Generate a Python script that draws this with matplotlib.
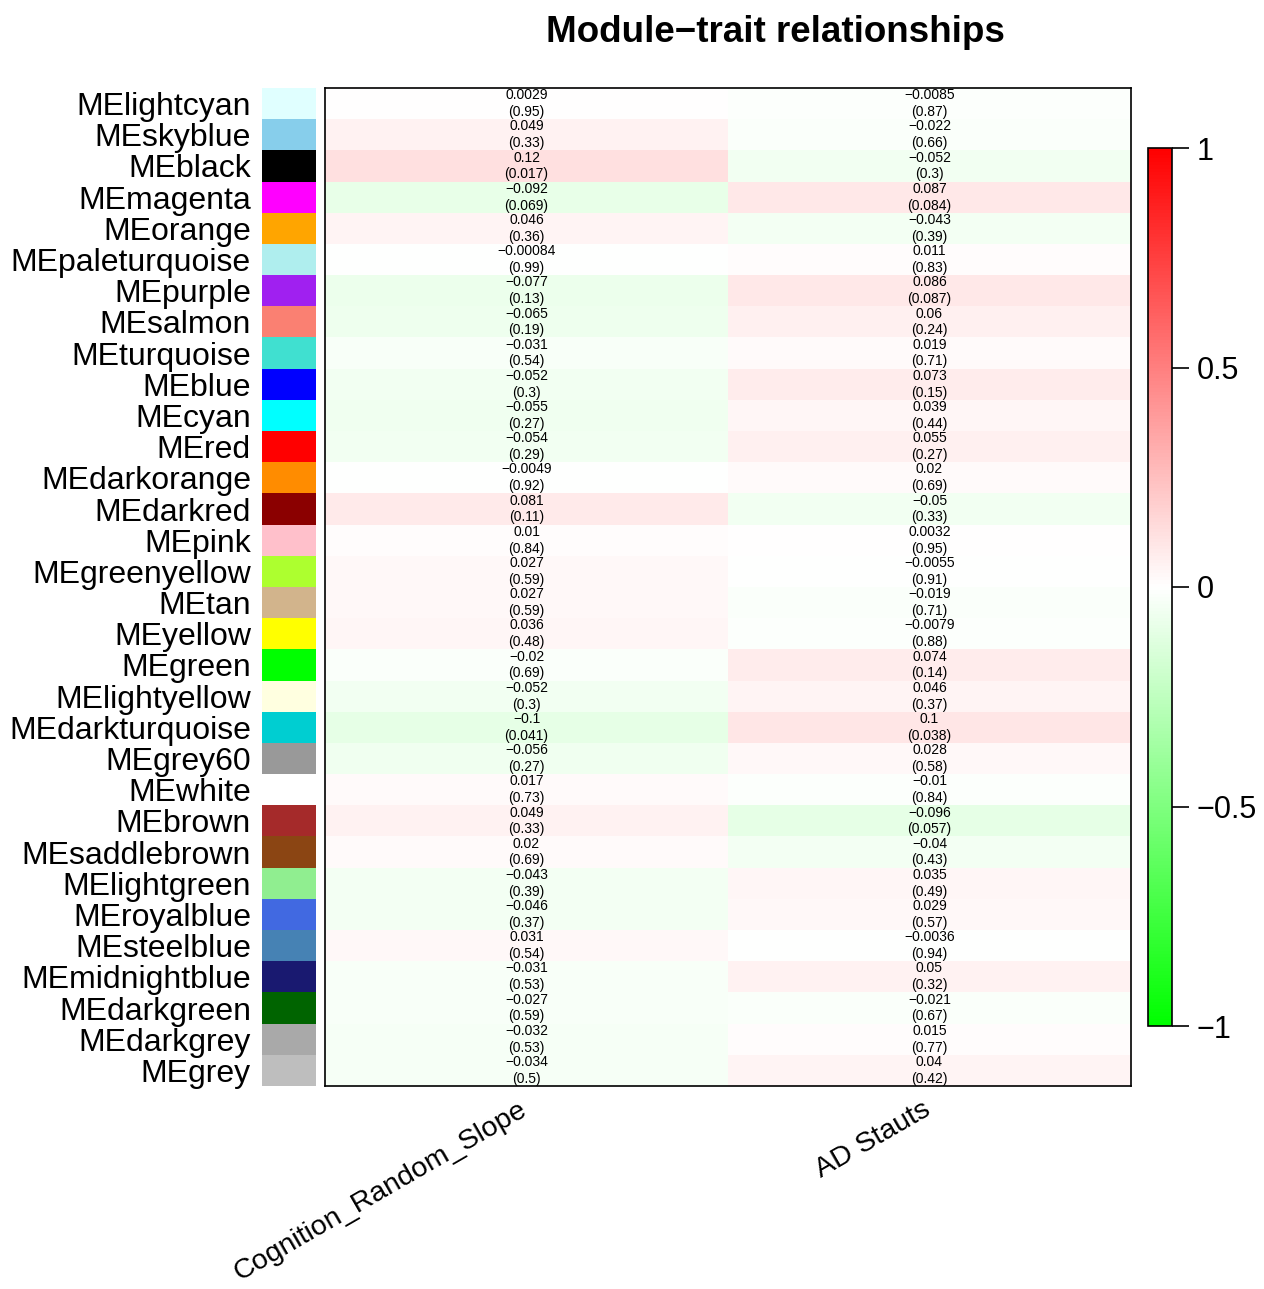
import numpy as np
import matplotlib
matplotlib.use("Agg")
import matplotlib.pyplot as plt
from matplotlib.colors import LinearSegmentedColormap, to_rgb
from matplotlib.transforms import ScaledTranslation

plt.rcParams['font.family'] = ['Liberation Sans', 'DejaVu Sans']

modules = ["lightcyan", "skyblue", "black", "magenta", "orange", "paleturquoise",
           "purple", "salmon", "turquoise", "blue", "cyan", "red", "darkorange",
           "darkred", "pink", "greenyellow", "tan", "yellow", "green", "lightyellow",
           "darkturquoise", "grey60", "white", "brown", "saddlebrown", "lightgreen",
           "royalblue", "steelblue", "midnightblue", "darkgreen", "darkgrey", "grey"]

# R colour names -> hex
module_hex = ["#E0FFFF", "#87CEEB", "#000000", "#FF00FF", "#FFA500", "#AFEEEE",
              "#A020F0", "#FA8072", "#40E0D0", "#0000FF", "#00FFFF", "#FF0000", "#FF8C00",
              "#8B0000", "#FFC0CB", "#ADFF2F", "#D2B48C", "#FFFF00", "#00FF00", "#FFFFE0",
              "#00CED1", "#999999", "#FFFFFF", "#A52A2A", "#8B4513", "#90EE90",
              "#4169E1", "#4682B4", "#191970", "#006400", "#A9A9A9", "#BEBEBE"]

traits = ["Cognition_Random_Slope", "AD Stauts"]

cor_cog = ["0.0029", "0.049", "0.12", "-0.092", "0.046", "-0.00084", "-0.077", "-0.065",
           "-0.031", "-0.052", "-0.055", "-0.054", "-0.0049", "0.081", "0.01", "0.027",
           "0.027", "0.036", "-0.02", "-0.052", "-0.1", "-0.056", "0.017", "0.049",
           "0.02", "-0.043", "-0.046", "0.031", "-0.031", "-0.027", "-0.032", "-0.034"]
p_cog = ["0.95", "0.33", "0.017", "0.069", "0.36", "0.99", "0.13", "0.19",
         "0.54", "0.3", "0.27", "0.29", "0.92", "0.11", "0.84", "0.59",
         "0.59", "0.48", "0.69", "0.3", "0.041", "0.27", "0.73", "0.33",
         "0.69", "0.39", "0.37", "0.54", "0.53", "0.59", "0.53", "0.5"]

cor_ad = ["-0.0085", "-0.022", "-0.052", "0.087", "-0.043", "0.011", "0.086", "0.06",
          "0.019", "0.073", "0.039", "0.055", "0.02", "-0.05", "0.0032", "-0.0055",
          "-0.019", "-0.0079", "0.074", "0.046", "0.1", "0.028", "-0.01", "-0.096",
          "-0.04", "0.035", "0.029", "-0.0036", "0.05", "-0.021", "0.015", "0.04"]
p_ad = ["0.87", "0.66", "0.3", "0.084", "0.39", "0.83", "0.087", "0.24",
        "0.71", "0.15", "0.44", "0.27", "0.69", "0.33", "0.95", "0.91",
        "0.71", "0.88", "0.14", "0.37", "0.038", "0.58", "0.84", "0.057",
        "0.43", "0.49", "0.57", "0.94", "0.32", "0.67", "0.77", "0.42"]

cor = np.column_stack([np.array(cor_cog, float), np.array(cor_ad, float)])
pvals = [p_cog, p_ad]
cors = [cor_cog, cor_ad]
n = len(modules)

cmap = LinearSegmentedColormap.from_list("gwr", ["#00FF00", "#FFFFFF", "#FF0000"], N=256)

fig = plt.figure(figsize=(12.64, 12.89), dpi=100)
W, H = 1264, 1289

def box(x0, y0, x1, y1):
    return [x0 / W, 1 - y1 / H, (x1 - x0) / W, (y1 - y0) / H]

# heatmap
ax = fig.add_axes(box(325, 88, 1131, 1086))
im = ax.imshow(cor, cmap=cmap, vmin=-1, vmax=1, aspect='auto', interpolation='nearest')
for j in range(2):
    for i in range(n):
        txt = cors[j][i].replace("-", "\u2212") + "\n(" + pvals[j][i] + ")"
        ax.text(j, i, txt, ha='center', va='center', fontsize=10, linespacing=1.25)
ax.set_yticks([])
ax.set_xticks(range(2))
ax.set_xticklabels(traits, rotation=30, ha='right', rotation_mode='anchor', fontsize=20.5)
ax.tick_params(axis='x', length=0, pad=8)
shift = ScaledTranslation(-8 / 100, 0, fig.dpi_scale_trans)
for lab in ax.get_xticklabels():
    lab.set_transform(lab.get_transform() + shift)
for s in ax.spines.values():
    s.set_linewidth(1.2)

# module colour swatches
axc = fig.add_axes(box(262, 88, 316, 1086))
axc.imshow(np.array([[to_rgb(c)] for c in module_hex]), aspect='auto', interpolation='nearest')
axc.set_xticks([])
axc.set_yticks(range(n))
axc.set_yticklabels(["ME" + m for m in modules], fontsize=23)
axc.tick_params(axis='y', length=0, pad=8)
for s in axc.spines.values():
    s.set_visible(False)

# colour bar
axb = fig.add_axes(box(1148, 148, 1172, 1026))
cb = fig.colorbar(im, cax=axb)
cb.set_ticks([-1, -0.5, 0, 0.5, 1])
cb.set_ticklabels(["\u22121", "\u22120.5", "0", "0.5", "1"])
axb.tick_params(labelsize=22, length=12, width=1.2, pad=6)
cb.outline.set_linewidth(1.2)

fig.text(775 / W, 1 - 32 / H, "Module\u2212trait relationships", ha='center', va='center',
         fontsize=26.5, fontweight='bold')

fig.savefig("out.png", dpi=100)
